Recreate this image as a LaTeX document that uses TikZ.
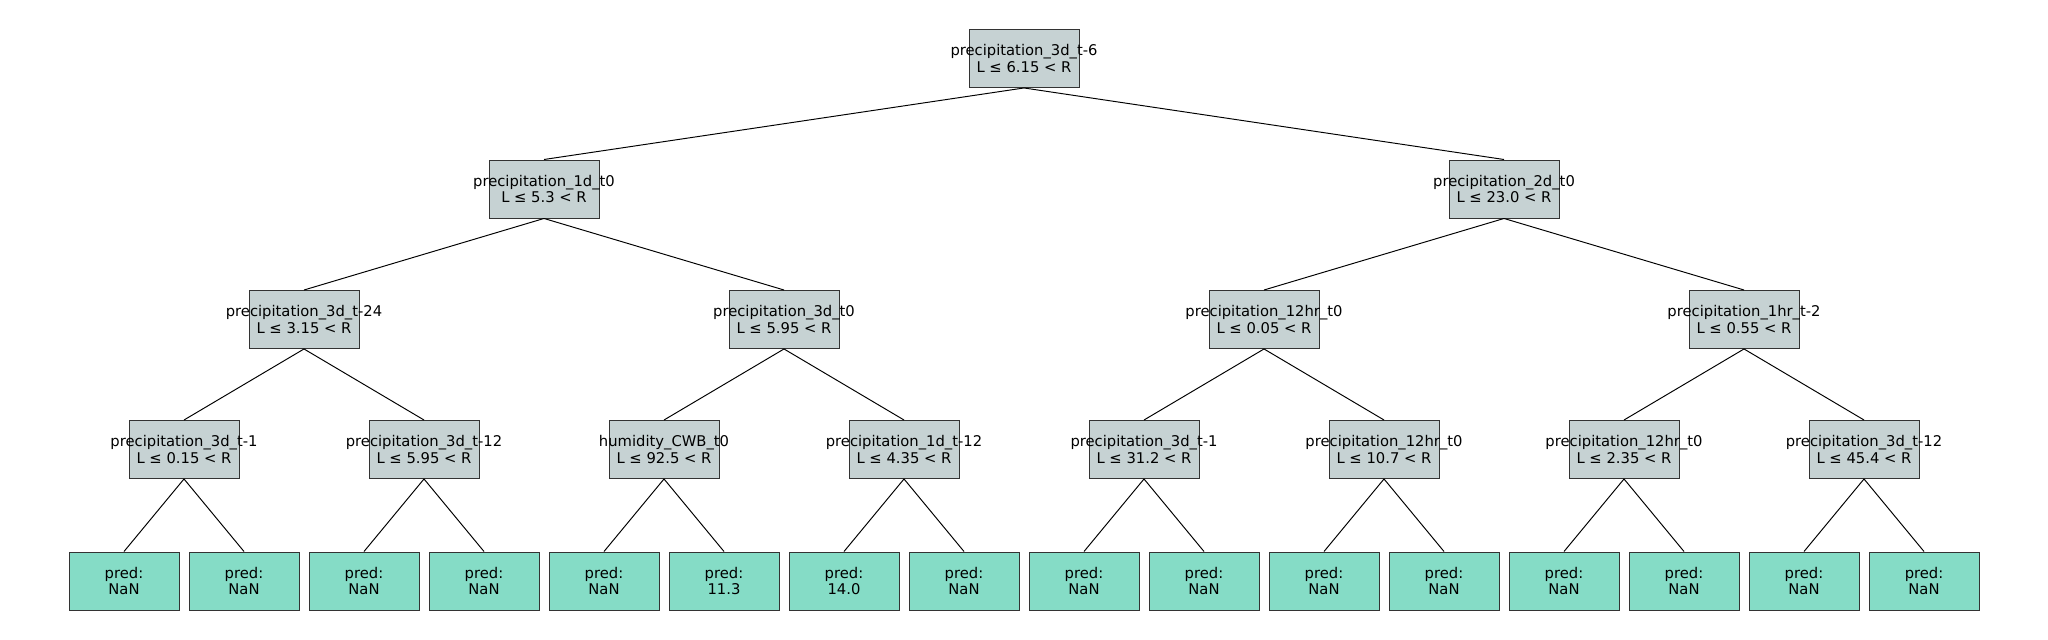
\documentclass[tikz,border=0pt]{standalone}
\usepackage{fontspec}
\setmainfont{DejaVu Sans}
\definecolor{splitfill}{HTML}{C6D2D3}
\definecolor{leaffill}{HTML}{85DCC6}
\definecolor{boxline}{HTML}{333333}

\tikzset{
  split/.style={draw=boxline, fill=splitfill, line width=0.55pt,
    minimum width=2.2cm, minimum height=1.16cm, inner sep=0pt},
  leaf/.style={split, fill=leaffill},
  txt/.style={align=center, inner sep=0pt,
    font=\fontsize{8.4}{9.6}\selectfont},
  edge/.style={line width=0.55pt, black}
}

\begin{document}
\begin{tikzpicture}
\useasboundingbox (0,0) rectangle (40.96,12.8);
% root
\node[split, label={[txt]center:{precipitation\_3d\_t-6\\L ≤ 6.15 < R}}] (n0) at (20.48,11.63) {};
% first level
\node[split, label={[txt]center:{precipitation\_1d\_t0\\L ≤ 5.3 < R}}] (n1) at (10.88,9.02) {};
\node[split, label={[txt]center:{precipitation\_2d\_t0\\L ≤ 23.0 < R}}] (n2) at (30.08,9.02) {};
% second level
\node[split, label={[txt]center:{precipitation\_3d\_t-24\\L ≤ 3.15 < R}}] (n11) at (6.08,6.41) {};
\node[split, label={[txt]center:{precipitation\_3d\_t0\\L ≤ 5.95 < R}}] (n12) at (15.68,6.41) {};
\node[split, label={[txt]center:{precipitation\_12hr\_t0\\L ≤ 0.05 < R}}] (n21) at (25.28,6.41) {};
\node[split, label={[txt]center:{precipitation\_1hr\_t-2\\L ≤ 0.55 < R}}] (n22) at (34.88,6.41) {};
% third level
\foreach \name/\thr [count=\i] in {precipitation\_3d\_t-1/0.15, precipitation\_3d\_t-12/5.95,
    humidity\_CWB\_t0/92.5, precipitation\_1d\_t-12/4.35, precipitation\_3d\_t-1/31.2,
    precipitation\_12hr\_t0/10.7, precipitation\_12hr\_t0/2.35, precipitation\_3d\_t-12/45.4}
  \node[split, label={[txt]center:{\name\\L ≤ \thr{} < R}}] (c\i) at ({3.68+4.8*(\i-1)},3.81) {};
% leaves
\foreach \v [count=\i] in {NaN,NaN,NaN,NaN,NaN,11.3,14.0,NaN,NaN,NaN,NaN,NaN,NaN,NaN,NaN,NaN}
  \node[leaf, label={[txt]center:{pred:\\\v}}] (l\i) at ({2.48+2.4*(\i-1)},1.18) {};
% connectors
\draw[edge] (n0.south) -- (n1.north);
\draw[edge] (n0.south) -- (n2.north);
\draw[edge] (n1.south) -- (n11.north);
\draw[edge] (n1.south) -- (n12.north);
\draw[edge] (n2.south) -- (n21.north);
\draw[edge] (n2.south) -- (n22.north);
\draw[edge] (n11.south) -- (c1.north);
\draw[edge] (n11.south) -- (c2.north);
\draw[edge] (n12.south) -- (c3.north);
\draw[edge] (n12.south) -- (c4.north);
\draw[edge] (n21.south) -- (c5.north);
\draw[edge] (n21.south) -- (c6.north);
\draw[edge] (n22.south) -- (c7.north);
\draw[edge] (n22.south) -- (c8.north);
\foreach \i [evaluate=\i as \a using int(2*\i-1), evaluate=\i as \b using int(2*\i)] in {1,...,8} {
  \draw[edge] (c\i.south) -- (l\a.north);
  \draw[edge] (c\i.south) -- (l\b.north);
}
\end{tikzpicture}
\end{document}
